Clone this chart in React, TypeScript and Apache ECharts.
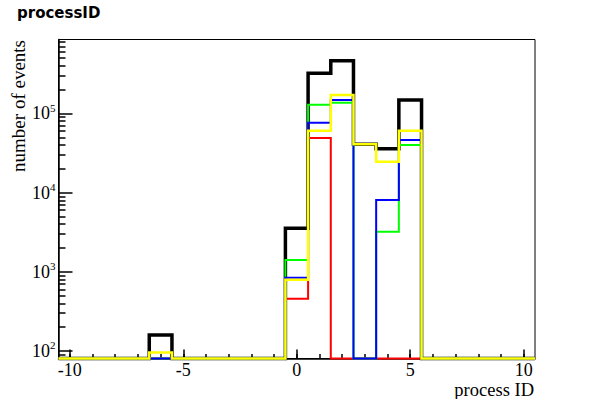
import React, { useEffect, useRef } from 'react';
import * as echarts from 'echarts';

// Histogram bins (width 1, centred on integers)
const binCenters = [-10, -9, -8, -7, -6, -5, -4, -3, -2, -1, 0, 1, 2, 3, 4, 5, 6, 7, 8, 9, 10];
// number of events per bin (0 = empty bin)
const totalEvents = [0, 0, 0, 0, 159, 0, 0, 0, 0, 0, 3550, 322000, 464000, 41000, 35900, 148000, 0, 0, 0, 0, 0];
const redEvents = [0, 0, 0, 0, 0, 0, 0, 0, 0, 0, 458, 49000, 0, 0, 0, 0, 0, 0, 0, 0, 0];
const greenEvents = [0, 0, 0, 0, 0, 0, 0, 0, 0, 0, 1410, 129000, 137000, 0, 3210, 40000, 0, 0, 0, 0, 0];
const blueEvents = [0, 0, 0, 0, 67, 0, 0, 0, 0, 0, 843, 76500, 148000, 0, 8070, 46200, 0, 0, 0, 0, 0];
const yellowEvents = [0, 0, 0, 0, 96, 0, 0, 0, 0, 0, 795, 60600, 171000, 40800, 24600, 60600, 0, 0, 0, 0, 0];

// axes
const X_MIN = -10.5;
const X_MAX = 10.5;
const xMajorTicks = [-10, -5, 0, 5, 10];
const xMinorTicks = binCenters;
const Y_MIN = 80.4;
const Y_MAX = 860000;
const yDecadeExponents = [2, 3, 4, 5];
const yMinorMultipliers = [2, 3, 4, 5, 6, 7, 8, 9];

const LOG_MIN = Math.log10(Y_MIN);
const LOG_MAX = Math.log10(Y_MAX);

const yMinorLogs: number[] = [];
for (let n = 1; n <= 5; n++) {
  for (const k of yMinorMultipliers) {
    const l = Math.log10(k * Math.pow(10, n));
    if (l > LOG_MIN && l < LOG_MAX) yMinorLogs.push(l);
  }
}

function stepPoints(values: number[]) {
  const pts: number[][] = [];
  binCenters.forEach((c, i) => {
    const v = Math.max(values[i], Y_MIN); // empty / under-range bins sit on the frame bottom
    pts.push([c - 0.5, v], [c + 0.5, v]);
  });
  return pts;
}

const SERIF = '"Liberation Serif", "Times New Roman", serif';

export default function App() {
  const ref = useRef<HTMLDivElement>(null);
  useEffect(() => {
    if (!ref.current) return;
    const chart = echarts.init(ref.current, undefined, { renderer: 'svg' });
    const mk = (name: string, values: number[], color: string, width: number) => ({
      name,
      type: 'line',
      xAxisIndex: 0,
      yAxisIndex: 0,
      data: stepPoints(values),
      symbol: 'none',
      clip: false,
      lineStyle: { color, width, join: 'miter', cap: 'butt' },
      emphasis: { disabled: true },
    });
    chart.setOption({
      animation: false,
      backgroundColor: '#ffffff',
      grid: {
        left: 58.5,
        right: 60,
        top: 39.5,
        bottom: 40.5,
        show: true,
        borderColor: '#000',
        borderWidth: 1,
        backgroundColor: 'transparent',
      },
      xAxis: [
        {
          type: 'value',
          min: X_MIN,
          max: X_MAX,
          position: 'bottom',
          axisLine: { show: true, onZero: false, lineStyle: { color: '#000', width: 1.5 } },
          axisTick: { show: true, inside: true, length: 9, customValues: xMajorTicks, lineStyle: { color: '#000', width: 1.5 } },
          axisLabel: { show: true, customValues: xMajorTicks, margin: 3, color: '#000', fontFamily: SERIF, fontSize: 18, lineHeight: 16 },
          splitLine: { show: false },
        },
        {
          type: 'value',
          min: X_MIN,
          max: X_MAX,
          position: 'bottom',
          axisLine: { show: false, onZero: false },
          axisTick: { show: true, inside: true, length: 4.5, customValues: xMinorTicks, lineStyle: { color: '#000', width: 1.5 } },
          axisLabel: { show: false },
          splitLine: { show: false },
        },
      ],
      yAxis: [
        {
          type: 'log',
          logBase: 10,
          min: Y_MIN,
          max: Y_MAX,
          position: 'left',
          axisLine: { show: true, onZero: false, lineStyle: { color: '#000', width: 1.5 } },
          axisTick: { show: false },
          axisLabel: { show: false },
          splitLine: { show: false },
        },
        {
          type: 'value',
          min: LOG_MIN,
          max: LOG_MAX,
          position: 'left',
          axisLine: { show: false, onZero: false },
          axisTick: { show: true, inside: true, length: 14, customValues: yDecadeExponents, lineStyle: { color: '#000', width: 1.5 } },
          axisLabel: {
            show: true,
            customValues: yDecadeExponents,
            margin: 3,
            formatter: (v: number) => `{b|10}{s|${Math.round(v)}}`,
            rich: {
              b: { fontFamily: SERIF, fontSize: 18, color: '#000', lineHeight: 22 },
              s: { fontFamily: SERIF, fontSize: 11, color: '#000', verticalAlign: 'top', lineHeight: 12 },
            },
          },
          splitLine: { show: false },
        },
        {
          type: 'value',
          min: LOG_MIN,
          max: LOG_MAX,
          position: 'left',
          axisLine: { show: false, onZero: false },
          axisTick: { show: true, inside: true, length: 7, customValues: yMinorLogs, lineStyle: { color: '#000', width: 1.5 } },
          axisLabel: { show: false },
          splitLine: { show: false },
        },
      ],
      graphic: [
        {
          type: 'text',
          x: 17,
          y: 13,
          style: {
            text: 'processID',
            font: 'bold 15px "DejaVu Sans", sans-serif',
            fill: '#000',
            align: 'left',
            verticalAlign: 'middle',
            textAlign: 'left',
            textVerticalAlign: 'middle',
          },
        },
        {
          type: 'text',
          x: 18,
          y: 40,
          rotation: Math.PI / 2,
          style: {
            text: 'number of events',
            font: `19px ${SERIF}`,
            fill: '#000',
            align: 'right',
            verticalAlign: 'middle',
            textAlign: 'right',
            textVerticalAlign: 'middle',
          },
        },
        {
          type: 'text',
          x: 534,
          y: 389.5,
          style: {
            text: 'process ID',
            font: `18.5px ${SERIF}`,
            lineHeight: 17,
            fill: '#000',
            align: 'right',
            verticalAlign: 'middle',
            textAlign: 'right',
            textVerticalAlign: 'middle',
          },
        },
      ],
      series: [
        mk('total', totalEvents, '#000000', 3.5),
        mk('red', redEvents, '#ff0000', 2),
        mk('green', greenEvents, '#00ff00', 2),
        mk('blue', blueEvents, '#0000ff', 2),
        mk('yellow', yellowEvents, '#ffff00', 2.5),
      ],
    });
    return () => chart.dispose();
  }, []);
  return <div ref={ref} style={{ position: 'fixed', left: 0, top: 0, width: 595, height: 399 }} />;
}
